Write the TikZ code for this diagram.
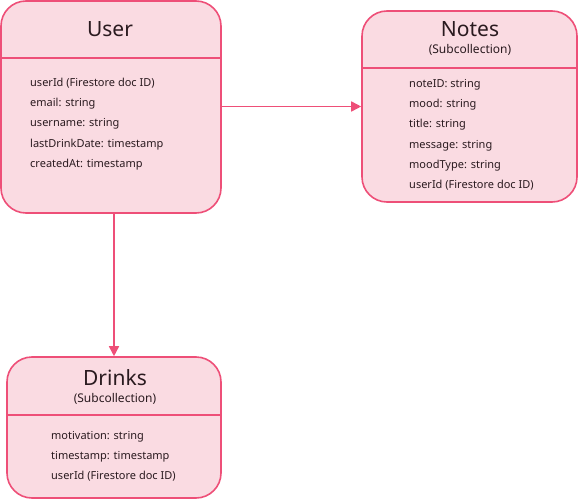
\documentclass[tikz,border=0pt]{standalone}
\usepackage{fontspec}
\setmainfont{Noto Sans}
\usetikzlibrary{arrows.meta}

\definecolor{rim}{HTML}{EE4F78}
\definecolor{pinkfill}{HTML}{FADBE2}
\definecolor{ink}{HTML}{2A1A1F}

\tikzset{
  entity/.style={draw=rim,fill=pinkfill,line width=1.6pt,rounded corners=25pt,
    rectangle,inner sep=0pt},
  divider/.style={draw=rim,line width=1.6pt},
  title/.style={text=ink,font=\fontsize{21}{21}\selectfont,anchor=base,inner sep=0pt},
  subtitle/.style={text=ink,font=\fontsize{12}{12}\selectfont,anchor=base,inner sep=0pt},
  field/.style={text=ink,font=\fontsize{11}{11}\selectfont,anchor=base west,inner sep=0pt},
  link/.style={draw=rim,line width=1.6pt,-{Triangle[length=10pt,width=10pt]}}
}

\begin{document}
\begin{tikzpicture}[x=1pt,y=-1pt]
\useasboundingbox (0,0) rectangle (578,500);

% boxes
\node[entity,minimum width=220pt,minimum height=212pt] (user) at (111,107) {};
\node[entity,minimum width=215pt,minimum height=191pt] (notes) at (469.5,106.5) {};
\node[entity,minimum width=214pt,minimum height=141pt] (drinks) at (114,427.5) {};

% dividers
\draw[divider] (user.west |- 0,58) -- (user.east |- 0,58);
\draw[divider] (notes.west |- 0,68) -- (notes.east |- 0,68);
\draw[divider] (drinks.west |- 0,415) -- (drinks.east |- 0,415);

% titles
\node[title] (usertitle) at (110,37) {User};
\node[title] (notestitle) at (470,37) {Notes};
\node[subtitle] (notessub) at (470,54) {(Subcollection)};
\node[title] (drinkstitle) at (115,385) {Drinks};
\node[subtitle] (drinkssub) at (115,402) {(Subcollection)};

% fields
\foreach \txt [count=\i] in {userId (Firestore doc ID),email: string,username: string,
    lastDrinkDate: timestamp,createdAt: timestamp}
  \node[field] (userf\i) at (30,{67+20*\i}) {\txt};
\foreach \txt [count=\i] in {noteID: string,mood: string,title: string,message: string,
    moodType: string,userId (Firestore doc ID)}
  \node[field] (notesf\i) at (409,{68+20*\i}) {\txt};
\foreach \txt [count=\i] in {motivation: string,timestamp: timestamp,userId (Firestore doc ID)}
  \node[field] (drinksf\i) at (51,{419+20*\i}) {\txt};

% connectors
\draw[link] (user.east |- notes.west) -- (notes.west);
\draw[link] (user.south -| drinks.north) -- (drinks.north);
\end{tikzpicture}
\end{document}
